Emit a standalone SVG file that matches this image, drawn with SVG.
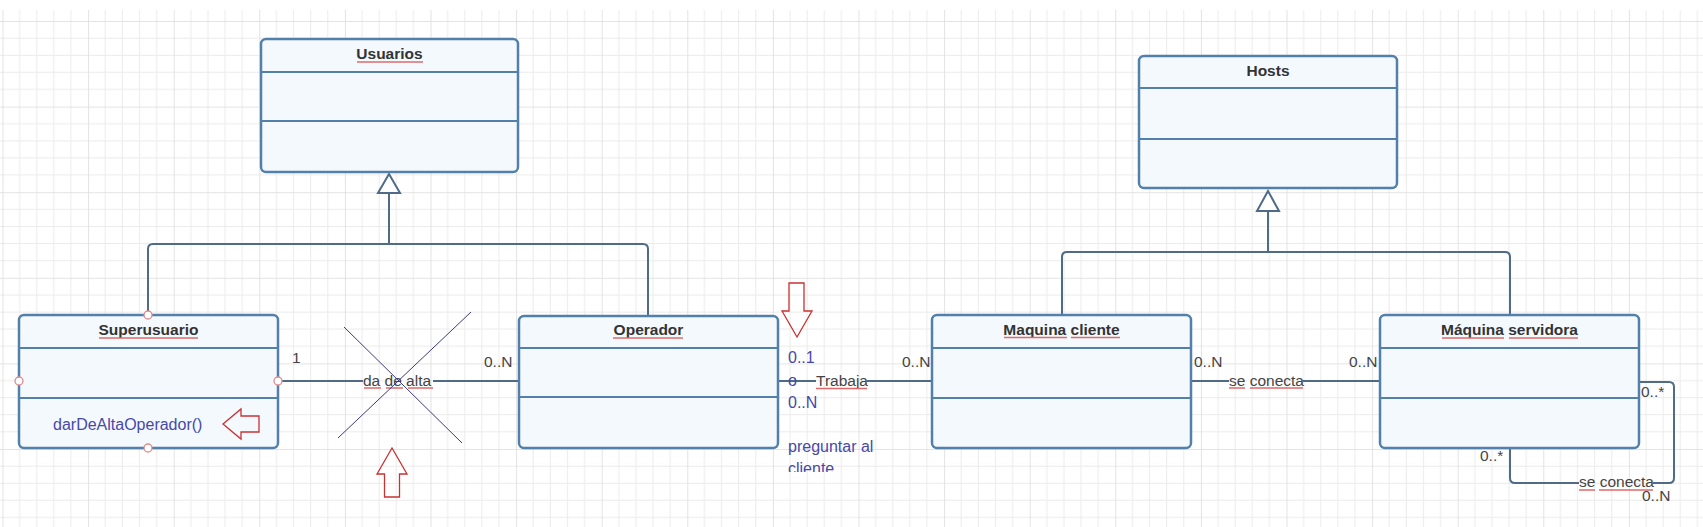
<svg xmlns="http://www.w3.org/2000/svg" width="1703" height="527" viewBox="0 0 1703 527">
<style>
.box{fill:#f4f9fe;stroke:#5280ab;stroke-width:2.5}
.div{stroke:#5280ab;stroke-width:2.2;fill:none}
.title{font-family:"Liberation Sans",Arial,sans-serif;font-weight:bold;font-size:15.5px;fill:#333;text-anchor:middle}
.lbl{font-family:"Liberation Sans",Arial,sans-serif;font-size:15.5px;fill:#444}
.blue{font-family:"Liberation Sans",Arial,sans-serif;font-size:16px;fill:#4848a8}
.con{stroke:#4f6b88;stroke-width:2;fill:none}
.sp{stroke:#e06a6a;stroke-width:1.6;fill:none}
.pt{fill:#fff;stroke:#e08a8a;stroke-width:1.3}
.cross{stroke:#3a3a80;stroke-width:1}
.red{fill:none;stroke:#c83232;stroke-width:1.3}
</style>
<defs>
<pattern id="grid" patternUnits="userSpaceOnUse" x="2.5" y="21" width="85.6" height="85.6">
<path d="M17.12 0V85.6M34.24 0V85.6M51.36 0V85.6M68.48 0V85.6M0 17.12H85.6M0 34.24H85.6M0 51.36H85.6M0 68.48H85.6" stroke="#ebebeb" stroke-width="1"/>
<path d="M0 0V85.6M0 0H85.6" stroke="#dcdcdc" stroke-width="1.6"/>
</pattern>
<clipPath id="clipq"><rect x="780" y="430" width="120" height="42"/></clipPath>
</defs>
<rect width="1703" height="527" fill="#fff"/>
<rect x="0" y="10" width="1703" height="517" fill="url(#grid)"/>

<g id="connectors">
<polygon points="389,174 378,193 400,193" fill="#fff" stroke="#4f6b88" stroke-width="2"/>
<path class="con" d="M389 193V244M148 315V249Q148 244 153 244H643Q648 244 648 249V316"/>
<polygon points="1268,191 1257,211 1279,211" fill="#fff" stroke="#4f6b88" stroke-width="2"/>
<path class="con" d="M1268 211V252M1062 315V257Q1062 252 1067 252H1505Q1510 252 1510 257V315"/>
<path class="con" d="M278 381H363M433 381H519"/>
<path class="con" d="M778 381H816M867 381H932"/>
<path class="con" d="M1191 381H1229M1303 381H1380"/>
<path class="con" d="M1639 382H1669Q1674 382 1674 387V478Q1674 483 1669 483H1653M1579 483H1515Q1510 483 1510 478V448"/>
</g>

<g id="usuarios">
<rect class="box" x="261" y="39" width="257" height="133" rx="5"/>
<path class="div" d="M261 72H518M261 121H518"/>
<text class="title" x="389.5" y="59">Usuarios</text>
<path class="sp" d="M357 62H423"/>
</g>

<g id="hosts">
<rect class="box" x="1139" y="56" width="258" height="132" rx="5"/>
<path class="div" d="M1139 88H1397M1139 139H1397"/>
<text class="title" x="1268" y="76">Hosts</text>
</g>

<g id="superusuario">
<rect class="box" x="19" y="315" width="259" height="133" rx="5"/>
<path class="div" d="M19 348H278M19 398H278"/>
<text class="title" x="148.5" y="335">Superusuario</text>
<path class="sp" d="M99 338H198"/>
<text class="blue" x="53" y="430" font-size="16.5">darDeAltaOperador()</text>
<circle class="pt" cx="148" cy="315" r="4"/>
<circle class="pt" cx="19" cy="381" r="4"/>
<circle class="pt" cx="278" cy="381" r="4"/>
<circle class="pt" cx="148" cy="448" r="4"/>
<polygon class="red" points="223,424 241,409 241,416 259,416 259,432 241,432 241,439"/>
</g>

<g id="operador">
<rect class="box" x="519" y="316" width="259" height="132" rx="5"/>
<path class="div" d="M519 348H778M519 397H778"/>
<text class="title" x="648.5" y="335">Operador</text>
<path class="sp" d="M613 338H683"/>
</g>

<g id="maquina-cliente">
<rect class="box" x="932" y="315" width="259" height="133" rx="5"/>
<path class="div" d="M932 348H1191M932 398H1191"/>
<text class="title" x="1061.5" y="335">Maquina cliente</text>
<path class="sp" d="M1004 337.5H1067M1071 337.5H1120"/>
</g>

<g id="maquina-servidora">
<rect class="box" x="1380" y="315" width="259" height="133" rx="5"/>
<path class="div" d="M1380 348H1639M1380 398H1639"/>
<text class="title" x="1509.5" y="335">Máquina servidora</text>
<path class="sp" d="M1442 338H1504M1509 338H1578"/>
</g>

<g id="labels">
<text class="lbl" x="292" y="363">1</text>
<text class="lbl" x="363" y="386">da de alta</text>
<path class="sp" d="M364 388H381M386 388H403M408 388H433"/>
<text class="lbl" x="484" y="367">0..N</text>
<text class="blue" x="788" y="363">0..1</text>
<text class="blue" x="788" y="386">o</text>
<text class="blue" x="788" y="408">0..N</text>
<text class="blue" x="788" y="452">preguntar al</text>
<text class="blue" x="788" y="474" clip-path="url(#clipq)">cliente</text>
<text class="lbl" x="816" y="386">Trabaja</text>
<path class="sp" d="M816 388.5H867"/>
<text class="lbl" x="902" y="367">0..N</text>
<text class="lbl" x="1194" y="367">0..N</text>
<text class="lbl" x="1229" y="386">se conecta</text>
<path class="sp" d="M1229 388H1245M1250 388H1303"/>
<text class="lbl" x="1349" y="367">0..N</text>
<text class="lbl" x="1641" y="397">0..*</text>
<text class="lbl" x="1480" y="461">0..*</text>
<text class="lbl" x="1579" y="487">se conecta</text>
<path class="sp" d="M1579 490H1595M1599 490H1653"/>
<text class="lbl" x="1642" y="501">0..N</text>
</g>

<g id="annotations">
<line class="cross" x1="344" y1="327" x2="462" y2="443"/>
<line class="cross" x1="338" y1="438" x2="471" y2="312"/>
<polygon class="red" points="797,337 782,311 789,311 789,283 804,283 804,311 812,311"/>
<polygon class="red" points="392,448 377,474 384.5,474 384.5,497 399.5,497 399.5,474 407,474"/>
</g>
</svg>
